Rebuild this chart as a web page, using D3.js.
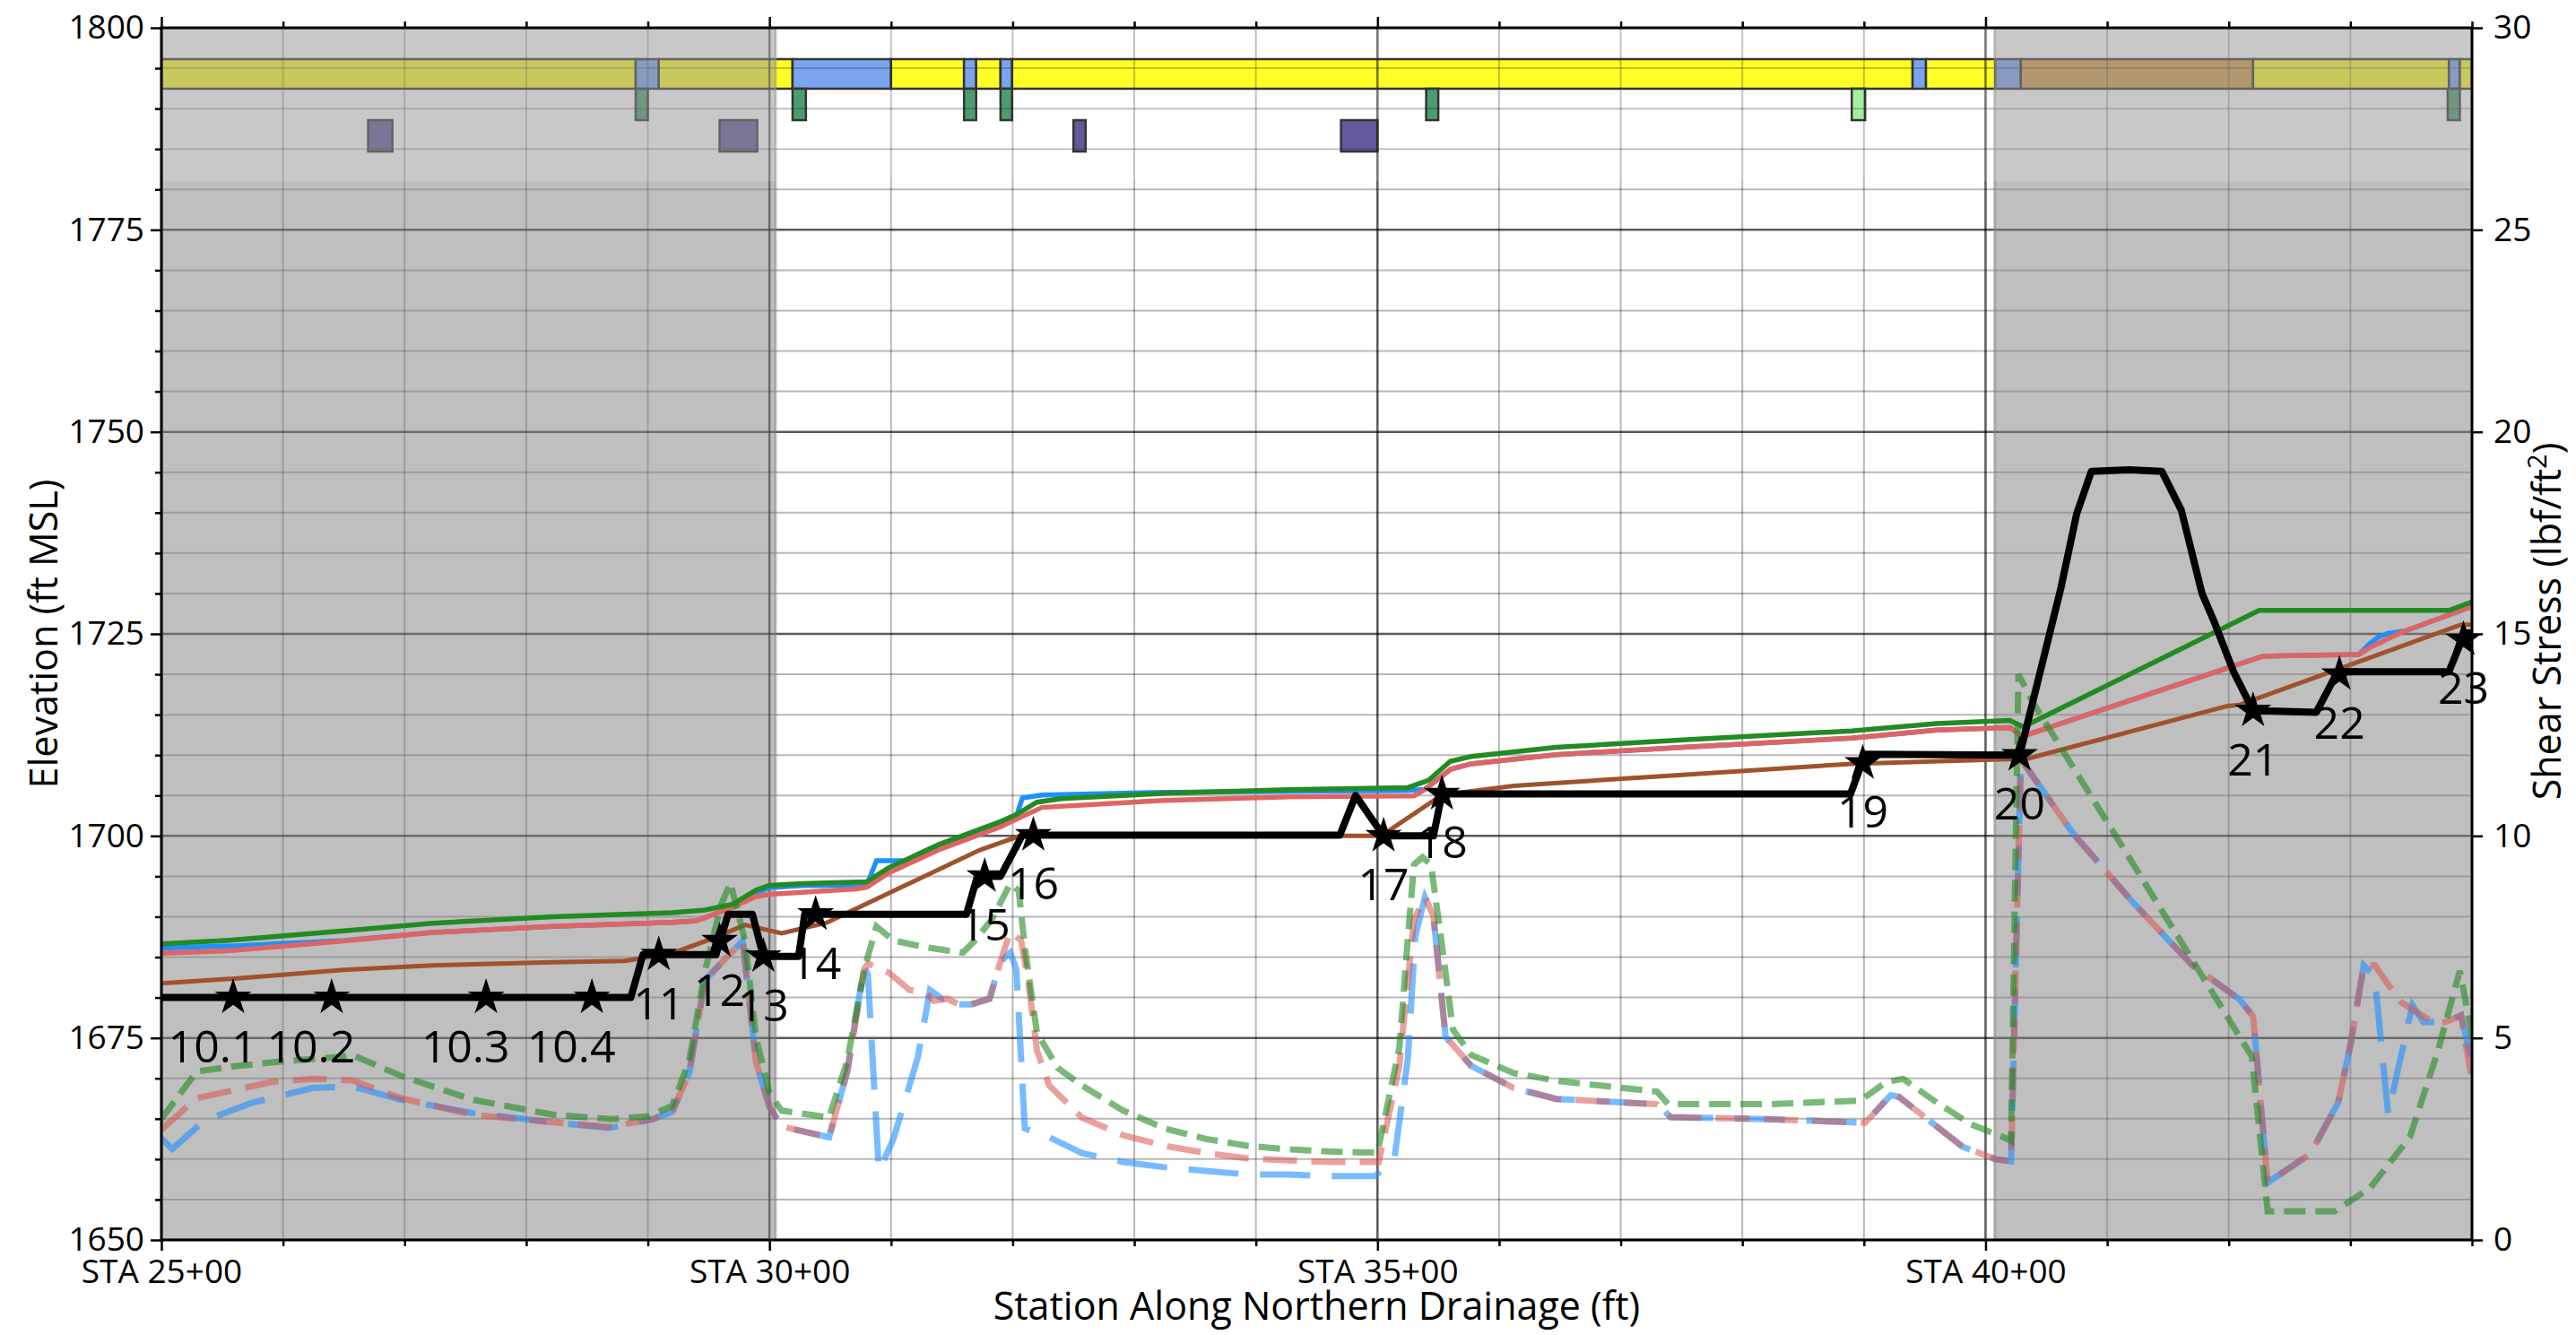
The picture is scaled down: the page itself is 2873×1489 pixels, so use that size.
<!DOCTYPE html>
<html>
<head>
<meta charset="utf-8">
<script src="https://cdn.jsdelivr.net/npm/d3@7"></script>
<style>
  body { margin: 0; background: #fff; }
  text { font-family: "Open Sans", "Noto Sans", sans-serif; }
</style>
</head>
<body>
<div id="chart"></div>
<script>

// ---- data ----
const stationTicks = [2500, 3000, 3500, 4000];
const stationTickLabels = ["STA 25+00", "STA 30+00", "STA 35+00", "STA 40+00"];
const elevTicks = [1650, 1675, 1700, 1725, 1750, 1775, 1800];
const shearTicks = [0, 5, 10, 15, 20, 25, 30];

// shaded reaches (station from, to)
const shadedReaches = [[2500, 3005], [4007.5, 4400]];

// strip of segments along the top: [row, from, to, kind]
const stripSegments = [
  [0, 2500, 2890, "lining"], [0, 2890, 2909, "crossing"], [0, 2909, 3019, "lining"],
  [0, 3019, 3100, "crossing"], [0, 3100, 3160, "lining"], [0, 3160, 3170, "crossing"],
  [0, 3170, 3190, "lining"], [0, 3190, 3199.5, "crossing"], [0, 3199.5, 3940, "lining"],
  [0, 3940, 3951, "crossing"], [0, 3951, 4008, "lining"], [0, 4008, 4029, "crossing"],
  [0, 4029, 4220, "riprap"], [0, 4220, 4381, "lining"], [0, 4381, 4390, "crossing"],
  [0, 4390, 4400, "lining"],
  [1, 2890, 2900, "drop"], [1, 3019, 3030, "drop"], [1, 3160, 3170, "drop"],
  [1, 3190, 3199.5, "drop"], [1, 3540, 3550, "drop"], [1, 3890, 3901, "dropLight"],
  [1, 4380, 4390, "drop"],
  [2, 2670, 2690, "pool"], [2, 2959, 2990, "pool"], [2, 3250, 3260, "pool"],
  [2, 3470, 3500, "pool"]
];

// channel profile (station, elevation ft)
const bedProfile = [
  [2500, 1680], [2886, 1680], [2896, 1685.3], [2956, 1685.3], [2966, 1690.3], [2986, 1690.3],
  [2995, 1685.1], [3024, 1685.1], [3029, 1690.3], [3162, 1690.3], [3171, 1695], [3190, 1695],
  [3208, 1700.1], [3469, 1700.1], [3482, 1705], [3505, 1700], [3546, 1700], [3553, 1705.2],
  [3889, 1705.2], [3901, 1710.1], [4028, 1710], [4062, 1730.7], [4075, 1739.9], [4087, 1745.1],
  [4118, 1745.3], [4145, 1745.1], [4161, 1740.3], [4178, 1730], [4188, 1726.5], [4204, 1720.3],
  [4220, 1715.5], [4272, 1715.3], [4287, 1719.6], [4293, 1720.3], [4381, 1720.3], [4394, 1725.1],
  [4400, 1725.1]
];

const structures = [
  { name: "10.1", station: 2559, elev: 1680 }, { name: "10.2", station: 2640, elev: 1680 },
  { name: "10.3", station: 2767, elev: 1680 }, { name: "10.4", station: 2854, elev: 1680 },
  { name: "11", station: 2909, elev: 1685.3 }, { name: "12", station: 2959, elev: 1687 },
  { name: "13", station: 2995, elev: 1685.1 }, { name: "14", station: 3038, elev: 1690.3 },
  { name: "15", station: 3177, elev: 1695 }, { name: "16", station: 3217, elev: 1700.1 },
  { name: "17", station: 3505, elev: 1700 }, { name: "18", station: 3553, elev: 1705.2 },
  { name: "19", station: 3899, elev: 1709 }, { name: "20", station: 4028, elev: 1710 },
  { name: "21", station: 4220, elev: 1715.5 }, { name: "22", station: 4291, elev: 1720 },
  { name: "23", station: 4393, elev: 1724.3 }
];

// water surface profiles (station, elevation ft)
const wsGreen = [
  [2500, 1686.65], [2558, 1687.1], [2650, 1688.24], [2723, 1689.2], [2822, 1690], [2920, 1690.5],
  [2947, 1690.83], [2970, 1691.57], [2989, 1693.3], [3000, 1693.87], [3027, 1694.09], [3080, 1694.31],
  [3098, 1696.06], [3139, 1698.91], [3190, 1701.77], [3203, 1702.64], [3220, 1704.18], [3240, 1704.62],
  [3325, 1705.27], [3427, 1705.71], [3504, 1705.93], [3525, 1705.98], [3542, 1706.88], [3560, 1709.24],
  [3577, 1709.83], [3647, 1710.96], [3751, 1711.87], [3890, 1713.0], [3960, 1713.91], [4020, 1714.3],
  [4031, 1713.5], [4225, 1727.9], [4381, 1727.9], [4400, 1728.97]
];
const wsBlue = [
  [2500, 1686.1], [2560, 1686.4], [2650, 1687.05], [2723, 1688.05], [2822, 1688.8], [2920, 1689.3],
  [2940, 1689.5], [2970, 1691.2], [2989, 1692.9], [3000, 1693.6], [3027, 1693.85], [3080, 1693.9],
  [3088, 1696.94], [3112, 1696.94], [3139, 1698.7], [3190, 1701.6], [3203, 1702.42], [3208, 1704.7],
  [3224, 1705.06], [3325, 1705.4], [3500, 1705.58], [3525, 1705.6], [3539, 1705.75], [3560, 1708.24],
  [3577, 1708.92], [3647, 1710.06], [3751, 1710.96], [3890, 1712.1], [3960, 1713.09], [4020, 1713.4],
  [4030, 1712.3], [4228, 1722.24], [4307, 1722.46], [4316, 1723.8], [4323, 1724.6], [4331, 1725.07],
  [4346, 1725.4], [4400, 1728.4]
];
const wsRed = [
  [2500, 1685.47], [2558, 1685.8], [2650, 1687.0], [2723, 1688.05], [2822, 1688.8], [2920, 1689.3],
  [2940, 1689.5], [2970, 1691.2], [2989, 1692.5], [3000, 1692.77], [3071, 1693.43], [3080, 1693.65],
  [3098, 1695.4], [3139, 1698.26], [3190, 1701.11], [3203, 1702.07], [3224, 1703.52], [3325, 1704.4],
  [3427, 1704.84], [3530, 1704.95], [3539, 1705.75], [3560, 1708.24], [3577, 1708.92], [3647, 1710.06],
  [3751, 1710.96], [3890, 1712.1], [3960, 1713.09], [4020, 1713.4], [4030, 1712.3], [4228, 1722.24],
  [4307, 1722.46], [4316, 1723.3], [4342, 1725.2], [4400, 1728.4]
];
const wsBrown = [
  [2500, 1681.77], [2558, 1682.32], [2650, 1683.43], [2723, 1683.99], [2822, 1684.36], [2881, 1684.54],
  [2920, 1685.47], [2953, 1687.3], [2980, 1688.98], [3010, 1687.95], [3047, 1689.26], [3173, 1698.26],
  [3206, 1700.0], [3503, 1700.0], [3553, 1705.07], [3612, 1706.2], [3751, 1707.56], [3890, 1708.92],
  [4018, 1709.5], [4033, 1709.5], [4199, 1716.08], [4209, 1716.22], [4391, 1726.14], [4400, 1726.14]
];

// shear stress (station, lbf/ft2)
const shearGreen = [
  [2500, 2.99], [2529, 4.17], [2560, 4.3], [2600, 4.42], [2650, 4.54], [2657, 4.58], [2697, 4.06],
  [2756, 3.47], [2822, 3.1], [2871, 2.99], [2901, 3.06], [2920, 3.32], [2934, 4.43], [2947, 6.65],
  [2960, 8.28], [2968, 8.84], [2980, 7.39], [2989, 5.0], [3000, 3.64], [3010, 3.2], [3049, 3.03],
  [3064, 4.43], [3078, 6.71], [3088, 7.76], [3102, 7.41], [3129, 7.24], [3159, 7.11], [3169, 7.41],
  [3183, 7.94], [3198, 8.82], [3205, 8.64], [3210, 7.24], [3220, 5.13], [3237, 4.26], [3257, 3.82],
  [3291, 3.2], [3325, 2.76], [3359, 2.5], [3393, 2.33], [3427, 2.24], [3460, 2.19], [3500, 2.16],
  [3518, 4.76], [3525, 7.48], [3530, 9.29], [3537, 9.47], [3544, 9.29], [3553, 7.3], [3562, 5.21],
  [3577, 4.58], [3612, 4.13], [3647, 3.94], [3730, 3.67], [3739, 3.36], [3821, 3.36], [3897, 3.45],
  [3918, 3.9], [3932, 3.99], [3960, 3.4], [3988, 2.86], [4015, 2.54], [4021, 2.45], [4027, 14.0],
  [4039, 13.3], [4105, 10.1], [4170, 6.93], [4219, 4.54], [4232, 0.71], [4287, 0.71], [4316, 1.28],
  [4349, 2.55], [4372, 4.68], [4390, 6.66], [4398, 5.39], [4400, 5.0]
];
const shearRed = [
  [2500, 2.73], [2529, 3.51], [2591, 3.91], [2624, 3.99], [2657, 3.95], [2697, 3.51], [2756, 3.1],
  [2822, 2.91], [2868, 2.8], [2904, 2.99], [2920, 3.17], [2934, 4.13], [2947, 6.43], [2965, 7.0],
  [2978, 7.4], [2989, 4.4], [3000, 3.3], [3010, 2.81], [3049, 2.54], [3064, 4.17], [3078, 6.71],
  [3081, 6.84], [3098, 6.62], [3115, 6.19], [3129, 6.1], [3135, 5.92], [3146, 5.97], [3156, 5.83],
  [3166, 5.83], [3181, 5.97], [3190, 6.89], [3198, 7.63], [3207, 7.41], [3213, 6.36], [3220, 4.69],
  [3230, 3.82], [3257, 3.03], [3291, 2.59], [3325, 2.33], [3359, 2.15], [3393, 2.02], [3427, 1.97],
  [3460, 1.93], [3501, 1.93], [3518, 4.31], [3530, 7.93], [3539, 8.48], [3546, 8.02], [3556, 5.03],
  [3577, 4.31], [3612, 3.76], [3647, 3.49], [3730, 3.36], [3741, 3.04], [3821, 2.99], [3901, 2.9],
  [3922, 3.58], [3929, 3.54], [3950, 3.04], [3981, 2.31], [4008, 2.0], [4021, 1.95], [4029, 11.9],
  [4072, 10.06], [4121, 8.36], [4170, 6.8], [4209, 5.95], [4220, 5.53], [4232, 1.42], [4267, 2.13],
  [4290, 3.4], [4300, 4.82], [4311, 6.8], [4320, 6.8], [4333, 6.24], [4342, 5.88], [4368, 5.39],
  [4378, 5.39], [4391, 5.56], [4399, 4.11]
];
const shearBlue = [
  [2500, 2.51], [2509, 2.25], [2535, 2.95], [2575, 3.4], [2624, 3.76], [2657, 3.8], [2697, 3.47],
  [2756, 3.14], [2822, 2.91], [2868, 2.77], [2904, 2.99], [2920, 3.17], [2934, 4.13], [2947, 6.43],
  [2965, 7.0], [2978, 7.4], [2989, 4.4], [3000, 3.3], [3010, 2.81], [3049, 2.54], [3064, 4.17],
  [3078, 6.8], [3081, 6.54], [3090, 1.71], [3102, 2.5], [3122, 4.52], [3132, 6.19], [3142, 5.97],
  [3152, 6.06], [3156, 5.83], [3166, 5.83], [3181, 5.97], [3190, 6.89], [3198, 7.11], [3203, 6.71],
  [3210, 2.76], [3230, 2.54], [3257, 2.15], [3291, 1.93], [3325, 1.8], [3359, 1.71], [3393, 1.62],
  [3427, 1.62], [3460, 1.58], [3498, 1.58], [3514, 2.04], [3525, 4.5], [3531, 7.5], [3539, 8.48],
  [3546, 8.02], [3556, 5.03], [3577, 4.31], [3612, 3.76], [3647, 3.49], [3730, 3.36], [3741, 3.04],
  [3821, 2.99], [3901, 2.9], [3922, 3.58], [3929, 3.54], [3950, 3.04], [3981, 2.31], [4008, 2.0],
  [4021, 1.95], [4029, 11.9], [4072, 10.06], [4121, 8.36], [4170, 6.8], [4209, 5.95], [4220, 5.53],
  [4232, 1.42], [4267, 2.13], [4290, 3.4], [4300, 4.82], [4311, 6.8], [4320, 6.52], [4331, 3.12],
  [4351, 5.81], [4360, 5.39], [4378, 5.39], [4391, 5.56], [4399, 4.53]
];

// ---- layout ----
const margin = { top: 31, right: 116, bottom: 106, left: 180 };
const W = 2873, H = 1489;
const width = W - margin.left - margin.right;
const height = H - margin.top - margin.bottom;

const stripColors = {
  lining: "#ffff00", crossing: "#6495ed", riprap: "#cc8a2a",
  drop: "#2e8b57", dropLight: "#90ee90", pool: "#483d8b"
};
// elevation bands used by the three strip rows
const stripRows = [[1792.46, 1796.12], [1788.57, 1792.46], [1784.69, 1788.57]];

const svg = d3.select("#chart").append("svg")
  .attr("width", W).attr("height", H)
  .style("display", "block");

const g = svg.append("g")
  .attr("transform", `translate(${margin.left},${margin.top})`);

const x = d3.scaleLinear().domain([2500, 4400]).range([0, width]);
const y = d3.scaleLinear().domain([1650, 1800]).range([height, 0]);
const y2 = d3.scaleLinear().domain([0, 30]).range([height, 0]);

g.append("clipPath").attr("id", "plotclip")
  .append("rect").attr("width", width).attr("height", height);

const plot = g.append("g").attr("clip-path", "url(#plotclip)");

// strip segments
plot.append("g").selectAll("rect")
  .data(stripSegments)
  .join("rect")
  .attr("x", d => x(d[1]))
  .attr("width", d => x(d[2]) - x(d[1]))
  .attr("y", d => y(stripRows[d[0]][1]))
  .attr("height", d => y(stripRows[d[0]][0]) - y(stripRows[d[0]][1]))
  .attr("fill", d => stripColors[d[3]])
  .attr("stroke", "#111")
  .attr("stroke-width", 2.5);

// grid
const minorX = d3.range(2500, 4401, 100).filter(v => v % 500 !== 0);
const minorY = d3.range(1650, 1801, 5).filter(v => v % 25 !== 0);

plot.append("g").selectAll("line")
  .data(minorX)
  .join("line")
  .attr("x1", d => x(d)).attr("x2", d => x(d))
  .attr("y1", 0).attr("y2", height)
  .attr("stroke", "#000").attr("stroke-opacity", 0.28).attr("stroke-width", 2);

plot.append("g").selectAll("line")
  .data(minorY)
  .join("line")
  .attr("y1", d => y(d)).attr("y2", d => y(d))
  .attr("x1", 0).attr("x2", width)
  .attr("stroke", "#000").attr("stroke-opacity", 0.28).attr("stroke-width", 2);

plot.append("g").selectAll("line")
  .data(stationTicks)
  .join("line")
  .attr("x1", d => x(d)).attr("x2", d => x(d))
  .attr("y1", 0).attr("y2", height)
  .attr("stroke", "#000").attr("stroke-opacity", 0.65).attr("stroke-width", 2.5);

plot.append("g").selectAll("line")
  .data(elevTicks)
  .join("line")
  .attr("y1", d => y(d)).attr("y2", d => y(d))
  .attr("x1", 0).attr("x2", width)
  .attr("stroke", "#000").attr("stroke-opacity", 0.65).attr("stroke-width", 2.5);

// shaded reaches
plot.append("g").selectAll("rect")
  .data(shadedReaches)
  .join("rect")
  .attr("x", d => x(d[0]))
  .attr("width", d => x(d[1]) - x(d[0]))
  .attr("y", 0).attr("height", height)
  .attr("fill", "#808080").attr("fill-opacity", 0.5)
  .attr("stroke", "#808080").attr("stroke-opacity", 0.5).attr("stroke-width", 3);

// slight light band behind the strip
plot.append("rect")
  .attr("x", 0).attr("width", width)
  .attr("y", y(1800)).attr("height", y(1781) - y(1800))
  .attr("fill", "#fff").attr("fill-opacity", 0.15);

// water surface lines
const lineElev = d3.line().x(d => x(d[0])).y(d => y(d[1]));
const lineShear = d3.line().x(d => x(d[0])).y(d => y2(d[1]));

plot.append("path").datum(wsBrown).attr("d", lineElev)
  .attr("fill", "none").attr("stroke", "#a0522d").attr("stroke-width", 5);
plot.append("path").datum(wsBlue).attr("d", lineElev)
  .attr("fill", "none").attr("stroke", "#1e90ff").attr("stroke-width", 5.5);
plot.append("path").datum(wsRed).attr("d", lineElev)
  .attr("fill", "none").attr("stroke", "#e06464").attr("stroke-width", 5.5);
plot.append("path").datum(wsGreen).attr("d", lineElev)
  .attr("fill", "none").attr("stroke", "#228b22").attr("stroke-width", 5.5);

// shear stress (right axis), dashed
plot.append("path").datum(shearBlue).attr("d", lineShear)
  .attr("fill", "none").attr("stroke", "#1e90ff").attr("stroke-opacity", 0.6)
  .attr("stroke-width", 7).attr("stroke-dasharray", "56,24");
plot.append("path").datum(shearRed).attr("d", lineShear)
  .attr("fill", "none").attr("stroke", "#d9534f").attr("stroke-opacity", 0.55)
  .attr("stroke-width", 7).attr("stroke-dasharray", "38,16");
plot.append("path").datum(shearGreen).attr("d", lineShear)
  .attr("fill", "none").attr("stroke", "#228b22").attr("stroke-opacity", 0.6)
  .attr("stroke-width", 7).attr("stroke-dasharray", "24,11");

// channel profile
plot.append("path").datum(bedProfile).attr("d", lineElev)
  .attr("fill", "none").attr("stroke", "#000").attr("stroke-width", 8)
  .attr("stroke-linejoin", "round");

// structure markers + labels
const star = d3.symbol().type(d3.symbolStar).size(520);
g.append("g").selectAll("path")
  .data(structures)
  .join("path")
  .attr("transform", d => `translate(${x(d.station)},${y(d.elev)})`)
  .attr("d", star)
  .attr("fill", "#000");

g.append("g").selectAll("text")
  .data(structures)
  .join("text")
  .attr("x", d => x(d.station))
  .attr("y", d => y(d.elev) + 72)
  .attr("dx", d => d.name.includes(".") ? -23 : 0)
  .attr("text-anchor", "middle")
  .attr("font-size", 50)
  .attr("fill", "#000")
  .text(d => d.name);

// axes
const axBottom = g.append("g").attr("transform", `translate(0,${height})`);
axBottom.call(d3.axisBottom(x).tickValues(minorX).tickSize(7).tickFormat(""));
axBottom.append("g").call(d3.axisBottom(x).tickValues(stationTicks).tickSize(12).tickPadding(10)
  .tickFormat(d => stationTickLabels[stationTicks.indexOf(d)]));

const axTop = g.append("g");
axTop.call(d3.axisTop(x).tickValues(minorX).tickSize(7).tickFormat(""));
axTop.append("g").call(d3.axisTop(x).tickValues(stationTicks).tickSize(12).tickFormat(""));

const axLeft = g.append("g");
axLeft.call(d3.axisLeft(y).tickValues(minorY).tickSize(7).tickFormat(""));
axLeft.append("g").call(d3.axisLeft(y).tickValues(elevTicks).tickSize(12).tickPadding(7)
  .tickFormat(d3.format("d")));

const axRight = g.append("g").attr("transform", `translate(${width},0)`);
axRight.call(d3.axisRight(y2).tickValues(shearTicks).tickSize(12).tickPadding(12)
  .tickFormat(d3.format("d")));

g.selectAll(".domain").remove();
g.selectAll(".tick line").attr("stroke", "#000").attr("stroke-width", 2.5);
g.selectAll(".tick text").attr("font-size", 37).attr("fill", "#000")
  .style("font-family", '"Open Sans", "Noto Sans", sans-serif');

// frame
g.append("rect")
  .attr("width", width).attr("height", height)
  .attr("fill", "none").attr("stroke", "#000").attr("stroke-width", 3);

// titles
svg.append("text")
  .attr("x", margin.left + width / 2).attr("y", 1472)
  .attr("text-anchor", "middle").attr("font-size", 43)
  .text("Station Along Northern Drainage (ft)");

svg.append("text")
  .attr("transform", `translate(64,${margin.top + height / 2}) rotate(-90)`)
  .attr("text-anchor", "middle").attr("font-size", 43)
  .text("Elevation (ft MSL)");

const rt = svg.append("text")
  .attr("transform", `translate(2856,${margin.top + height / 2 - 14}) rotate(-90)`)
  .attr("text-anchor", "middle").attr("font-size", 43);
rt.append("tspan").text("Shear Stress (lbf/ft");
rt.append("tspan").attr("dy", -16).attr("font-size", 29).text("2");
rt.append("tspan").attr("dy", 16).text(")");

</script>
</body>
</html>
